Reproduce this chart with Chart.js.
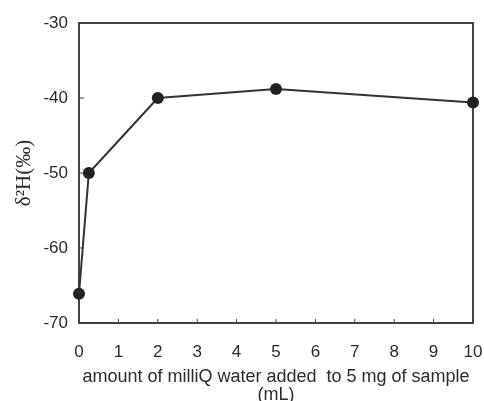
<!DOCTYPE html>
<html>
<head>
<meta charset="utf-8">
<script src="https://cdn.jsdelivr.net/npm/chart.js@4"></script>
<style>
  html, body { margin: 0; padding: 0; background: #fff; }
  #wrap { width: 484px; height: 401px; }
</style>
</head>
<body>
<div id="wrap"><canvas id="myChart" width="484" height="401"></canvas></div>
<script>
// mL of milliQ water added to 5 mg of sample
var volumes = [0, 0.25, 2, 5, 10];
// delta 2H (permil)
var delta2H = [-66.1, -50, -40, -38.8, -40.6];
var xTicks = [0, 1, 2, 3, 4, 5, 6, 7, 8, 9, 10];
var yTicks = [-70, -60, -50, -40, -30];

var ink = "#2b2b2b";
var sans = "'Liberation Sans', Arial, sans-serif";

var points = volumes.map(function(v, i) { return { x: v, y: delta2H[i] }; });

// box round the plot + small inward tick marks
var frame = {
	id: "frame",
	beforeDatasetsDraw: function(chart) {
		var ctx = chart.ctx, a = chart.chartArea;
		var xs = chart.scales.x, ys = chart.scales.y;
		ctx.save();
		ctx.strokeStyle = "#444";
		ctx.lineWidth = 2;
		ctx.strokeRect(a.left, a.top, a.right - a.left, a.bottom - a.top);
		ctx.lineWidth = 1;
		ctx.beginPath();
		xTicks.forEach(function(t) {
			var px = xs.getPixelForValue(t);
			ctx.moveTo(px, a.bottom);
			ctx.lineTo(px, a.bottom - 4);
		});
		yTicks.forEach(function(t) {
			var py = ys.getPixelForValue(t);
			ctx.moveTo(a.left, py);
			ctx.lineTo(a.left + 5, py);
		});
		ctx.stroke();
		ctx.restore();
	}
};

var ctx = document.getElementById("myChart").getContext("2d");
var myChart = new Chart(ctx, {
	type: "scatter",
	data: {
		datasets: [{
			data: points,
			showLine: true,
			clip: false,
			borderColor: "#333",
			borderWidth: 2,
			backgroundColor: "#222",
			pointRadius: 6,
			pointBorderWidth: 0,
			pointBackgroundColor: "#222"
		}]
	},
	options: {
		responsive: false,
		animation: false,
		layout: { padding: { left: 0, right: 11, top: 23, bottom: 0 } },
		plugins: { legend: { display: false }, tooltip: { enabled: false } },
		scales: {
			x: {
				type: "linear",
				min: 0,
				max: 10,
				afterBuildTicks: function(scale) {
					scale.ticks = xTicks.map(function(v) { return { value: v }; });
				},
				ticks: { color: ink, font: { family: sans, size: 17 }, padding: 19, maxRotation: 0 },
				grid: { display: false, drawTicks: false },
				border: { display: false },
				title: {
					display: true,
					text: ["amount of milliQ water added  to 5 mg of sample", "(mL)"],
					color: ink,
					font: { family: sans, size: 18, lineHeight: 1.0 },
					padding: { top: 0, bottom: -3 }
				},
				afterFit: function(scale) {
					scale.height = 78;
					scale.paddingLeft = 0;
					scale.paddingRight = 0;
				}
			},
			y: {
				type: "linear",
				min: -70,
				max: -30,
				afterBuildTicks: function(scale) {
					scale.ticks = yTicks.map(function(v) { return { value: v }; });
				},
				ticks: { color: ink, font: { family: sans, size: 17 }, padding: 11 },
				grid: { display: false, drawTicks: false },
				border: { display: false },
				title: {
					display: true,
					text: "δ²H(‰)",
					color: ink,
					font: { family: "'Liberation Serif', 'Times New Roman', serif", size: 21 },
					padding: { top: 12, bottom: 0 }
				},
				afterFit: function(scale) {
					scale.width = 79;
					scale.paddingTop = 0;
					scale.paddingBottom = 0;
				}
			}
		}
	},
	plugins: [frame]
});
</script>
</body>
</html>
